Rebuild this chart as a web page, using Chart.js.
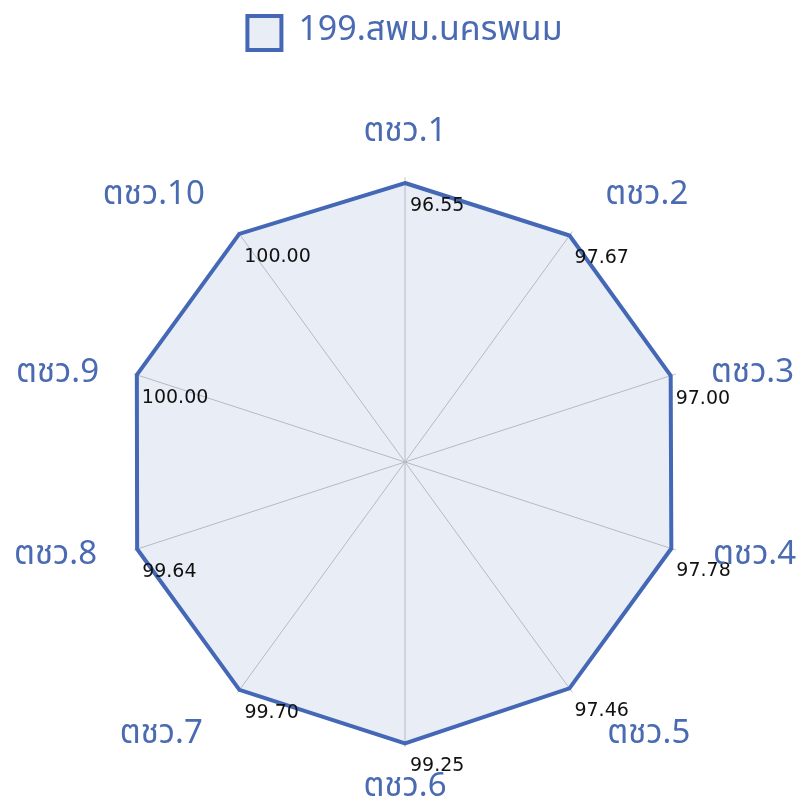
<!DOCTYPE html>
<html>
<head>
<meta charset="utf-8">
<script src="https://cdn.jsdelivr.net/npm/chart.js@4.4.0/dist/chart.umd.min.js"></script>
<style>
  body { margin: 0; background: #fff; }
  #wrap { width: 798px; height: 809px; position: relative; }
</style>
</head>
<body>
<div id="wrap"><canvas id="radarChart"></canvas></div>
<script>
// chart data
const categories = ['ตชว.1', 'ตชว.2', 'ตชว.3', 'ตชว.4', 'ตชว.5', 'ตชว.6', 'ตชว.7', 'ตชว.8', 'ตชว.9', 'ตชว.10'];
const seriesName = '199.สพม.นครพนม';
const seriesValues = [96.55, 97.67, 97.00, 97.78, 97.46, 99.25, 99.70, 99.64, 100.00, 100.00];

const blue = '#4468b6';
const labelBlue = '#4a6bb2';
const fillBlue = 'rgba(68, 104, 182, 0.12)';
const thaiFont = '"Noto Sans Thai", "Noto Sans Thai UI", "Noto Sans", sans-serif';

// draws the value next to each point
const valueLabels = {
    id: 'valueLabels',
    afterDatasetsDraw(chart) {
        const ctx = chart.ctx;
        const meta = chart.getDatasetMeta(0);
        ctx.save();
        ctx.font = '19px "DejaVu Sans", sans-serif';
        ctx.fillStyle = '#111';
        ctx.textAlign = 'left';
        ctx.textBaseline = 'middle';
        meta.data.forEach((pt, i) => {
            ctx.fillText(seriesValues[i].toFixed(2), pt.x + 5, pt.y + 23);
        });
        ctx.restore();
    }
};

// category names around the outside of the scale
// small per-slot nudges: [outward x, y]
const labelNudge = [[0, -1], [8, 0], [-5, 14], [-3, -6], [10, 10], [0, 0], [10, 10], [-3, -6], [-5, 14], [8, 0]];
const outerLabels = {
    id: 'outerLabels',
    afterDraw(chart) {
        const ctx = chart.ctx;
        const scale = chart.scales.r;
        ctx.save();
        ctx.font = '33px ' + thaiFont;
        ctx.fillStyle = labelBlue;
        ctx.textBaseline = 'middle';
        categories.forEach((name, i) => {
            const p = scale.getPointPosition(i, scale.drawingArea + 42);
            const dx = p.x - scale.xCenter;
            let side = 0;
            if (Math.abs(dx) < 2) ctx.textAlign = 'center';
            else {
                side = dx > 0 ? 1 : -1;
                ctx.textAlign = side > 0 ? 'left' : 'right';
            }
            ctx.fillText(name, p.x + side * labelNudge[i][0], p.y + labelNudge[i][1]);
        });
        ctx.restore();
    }
};

// legend takes the band above the scale
const legendGap = {
    id: 'legendGap',
    beforeInit(chart) {
        const fit = chart.legend.fit;
        chart.legend.fit = function () {
            fit.bind(chart.legend)();
            this.height = 177;
        };
    }
};

const ctx = document.getElementById('radarChart').getContext('2d');
const radarChart = new Chart(ctx, {
    type: 'radar',
    data: {
        labels: categories,
        datasets: [{
            label: seriesName,
            data: seriesValues,
            borderColor: blue,
            backgroundColor: fillBlue,
            borderWidth: 4,
            pointRadius: 0,
            pointHoverRadius: 0,
            fill: 'start'
        }]
    },
    options: {
        responsive: true,
        maintainAspectRatio: false,
        animation: false,
        layout: { padding: { top: 0, bottom: 62, left: 12, right: 0 } },
        plugins: {
            legend: {
                position: 'top',
                labels: {
                    color: labelBlue,
                    font: { size: 34, family: thaiFont },
                    boxWidth: 34,
                    boxHeight: 34,
                    padding: 16
                }
            },
            tooltip: { enabled: false }
        },
        scales: {
            r: {
                min: -225,
                max: 103.5,
                ticks: { display: false },
                grid: { display: false },
                angleLines: { color: '#c4c4c4', lineWidth: 1 },
                pointLabels: { display: false }
            }
        }
    },
    plugins: [valueLabels, outerLabels, legendGap]
});
</script>
</body>
</html>
